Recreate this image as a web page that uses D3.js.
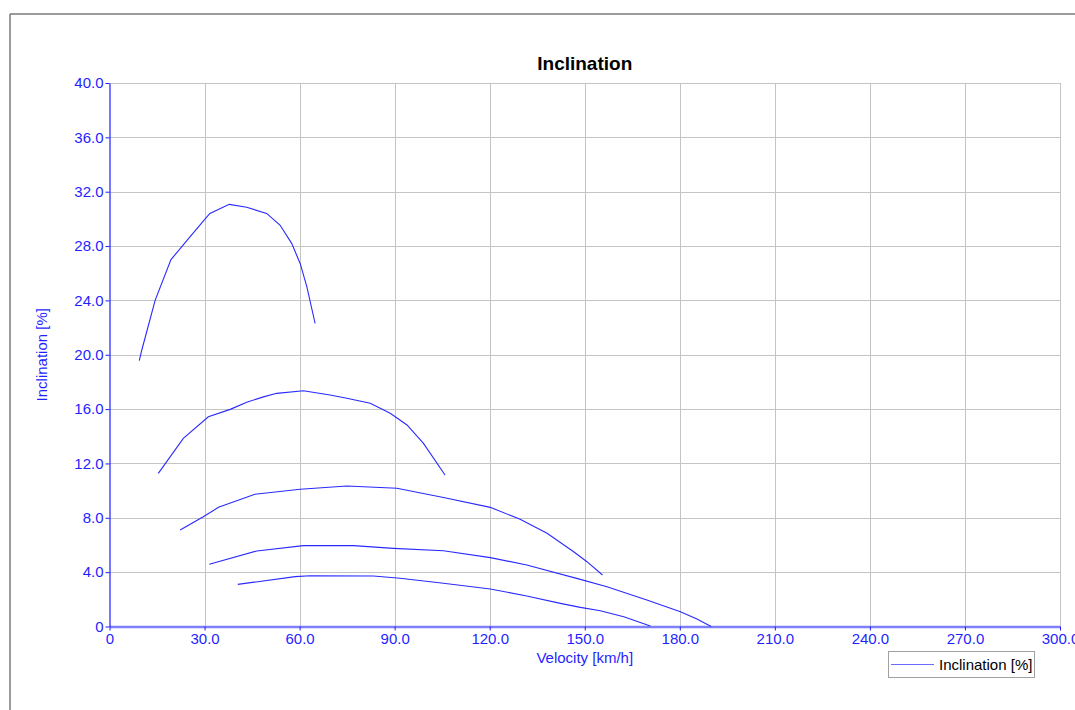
<!DOCTYPE html>
<html>
<head>
<meta charset="utf-8">
<script src="https://cdn.jsdelivr.net/npm/d3@7"></script>
<style>
  html, body { margin: 0; padding: 0; background: #fff; }
  svg { display: block; font-family: "Liberation Sans", Arial, sans-serif; }
</style>
</head>
<body>
<svg id="chart" width="1075" height="710"></svg>
<script>
// ---- data ----
const chartTitle = "Inclination";
const xTitle = "Velocity [km/h]";
const yTitle = "Inclination [%]";
const legendLabel = "Inclination [%]";

const xTicks = [0, 30, 60, 90, 120, 150, 180, 210, 240, 270, 300];
const yTicks = [0, 4, 8, 12, 16, 20, 24, 28, 32, 36, 40];

const gear1Speed = [9.4, 10.2, 14.4, 19.4, 24.4, 30.2, 31.7, 37.8, 43.3, 49.6, 53.8, 57.5, 60.2, 62.3, 64.9];
const gear1Incl  = [19.56, 20.35, 24.0, 27.0, 28.4, 30.0, 30.4, 31.07, 30.85, 30.4, 29.55, 28.2, 26.7, 25.0, 22.3];

const gear2Speed = [15.4, 23.3, 31.2, 38.1, 43.3, 48.6, 52.8, 61.2, 69.6, 74.9, 82.3, 88.6, 93.9, 99.1, 105.9];
const gear2Incl  = [11.27, 13.85, 15.44, 15.98, 16.5, 16.9, 17.16, 17.35, 17.04, 16.8, 16.43, 15.7, 14.83, 13.48, 11.15];

const gear3Speed = [22.3, 29.6, 34.4, 45.9, 60.2, 74.9, 90.7, 105.4, 120.2, 129.6, 138.1, 146.5, 150.7, 155.6];
const gear3Incl  = [7.1, 8.08, 8.77, 9.73, 10.1, 10.34, 10.17, 9.5, 8.77, 7.89, 6.86, 5.5, 4.77, 3.79];

const gear4Speed = [31.5, 46.5, 61.2, 77.0, 89.6, 105.4, 120.2, 131.7, 148.6, 157.0, 169.6, 180.2, 185.4, 189.9];
const gear4Incl  = [4.58, 5.56, 5.95, 5.95, 5.75, 5.58, 5.07, 4.53, 3.47, 2.93, 1.95, 1.09, 0.55, 0];

const gear5Speed = [40.5, 58.6, 63.3, 83.3, 91.7, 105.4, 120.2, 131.7, 142.3, 148.6, 154.9, 162.3, 170.7];
const gear5Incl  = [3.1, 3.67, 3.74, 3.72, 3.55, 3.18, 2.76, 2.24, 1.7, 1.41, 1.16, 0.72, 0.04];

const series = [
  [gear1Speed, gear1Incl],
  [gear2Speed, gear2Incl],
  [gear3Speed, gear3Incl],
  [gear4Speed, gear4Incl],
  [gear5Speed, gear5Incl]
];

// ---- layout ----
const svg = d3.select("#chart");
const plot = { left: 109.5, right: 1060, top: 83, bottom: 626.5 };
const blue = "#1f1fff";

const x = d3.scaleLinear().domain([0, 300]).range([plot.left, plot.right]);
const y = d3.scaleLinear().domain([0, 40]).range([plot.bottom, plot.top]);

// outer frame
svg.append("line").attr("x1", 10).attr("x2", 1075).attr("y1", 14).attr("y2", 14)
  .attr("stroke", "#7a7a7a").attr("stroke-width", 1.5);
svg.append("line").attr("x1", 10).attr("x2", 10).attr("y1", 14).attr("y2", 710)
  .attr("stroke", "#7a7a7a").attr("stroke-width", 1.5);

// grid
const grid = svg.append("g");
grid.selectAll(".gx").data(xTicks.filter(d => d > 0)).enter().append("line")
  .attr("x1", d => Math.round(x(d)) + 0.5).attr("x2", d => Math.round(x(d)) + 0.5)
  .attr("y1", plot.top).attr("y2", plot.bottom)
  .attr("stroke", "#c4c4c4").attr("stroke-width", 1);
grid.selectAll(".gy").data(yTicks.filter(d => d > 0)).enter().append("line")
  .attr("x1", plot.left).attr("x2", plot.right)
  .attr("y1", d => Math.round(y(d)) + 0.5).attr("y2", d => Math.round(y(d)) + 0.5)
  .attr("stroke", "#c4c4c4").attr("stroke-width", 1);

// axes
const fmt = d => d === 0 ? "0" : d3.format(".1f")(d);

const xAxis = svg.append("g")
  .attr("transform", `translate(0,${plot.bottom})`)
  .call(d3.axisBottom(x).tickValues(xTicks).tickFormat(fmt).tickSize(4).tickSizeOuter(0).tickPadding(3));
xAxis.select(".domain").attr("stroke", "#8080ff").attr("stroke-width", 2.5);
xAxis.selectAll(".tick line").attr("stroke", blue);
xAxis.selectAll(".tick text").attr("fill", blue).style("font-size", "15px")
  .style("font-family", "'Liberation Sans', Arial, sans-serif");

const yAxis = svg.append("g")
  .attr("transform", `translate(${plot.left},0)`)
  .call(d3.axisLeft(y).tickValues(yTicks).tickFormat(fmt).tickSize(4).tickSizeOuter(0).tickPadding(2));
yAxis.select(".domain").attr("stroke", blue).attr("stroke-width", 1.2);
yAxis.selectAll(".tick line").attr("stroke", blue);
yAxis.selectAll(".tick text").attr("fill", blue).style("font-size", "15px")
  .style("font-family", "'Liberation Sans', Arial, sans-serif");

// curves
const line = d3.line().x(d => x(d[0])).y(d => y(d[1]));
svg.append("g").selectAll("path").data(series).enter().append("path")
  .attr("d", s => line(s[0].map((v, i) => [v, s[1][i]])))
  .attr("fill", "none").attr("stroke", "#2a2aff").attr("stroke-width", 1.1);

// titles
svg.append("text").attr("x", (plot.left + plot.right) / 2).attr("y", 70)
  .attr("text-anchor", "middle").style("font-size", "19px").style("font-weight", "bold")
  .attr("fill", "#000").text(chartTitle);

svg.append("text").attr("x", (plot.left + plot.right) / 2).attr("y", 663)
  .attr("text-anchor", "middle").style("font-size", "15px")
  .attr("fill", blue).text(xTitle);

svg.append("text")
  .attr("transform", `translate(47,${(plot.top + plot.bottom) / 2}) rotate(-90)`)
  .attr("text-anchor", "middle").style("font-size", "15px")
  .attr("fill", blue).text(yTitle);

// legend
const lg = svg.append("g");
lg.append("rect").attr("x", 888.5).attr("y", 651.5).attr("width", 146).attr("height", 26)
  .attr("fill", "#fff").attr("stroke", "#a0a0a0").attr("stroke-width", 1);
lg.append("line").attr("x1", 891).attr("x2", 934).attr("y1", 664.5).attr("y2", 664.5)
  .attr("stroke", "#6a6aff").attr("stroke-width", 1.2);
lg.append("text").attr("x", 939).attr("y", 670).style("font-size", "15px")
  .attr("fill", "#000").text(legendLabel);
</script>
</body>
</html>
